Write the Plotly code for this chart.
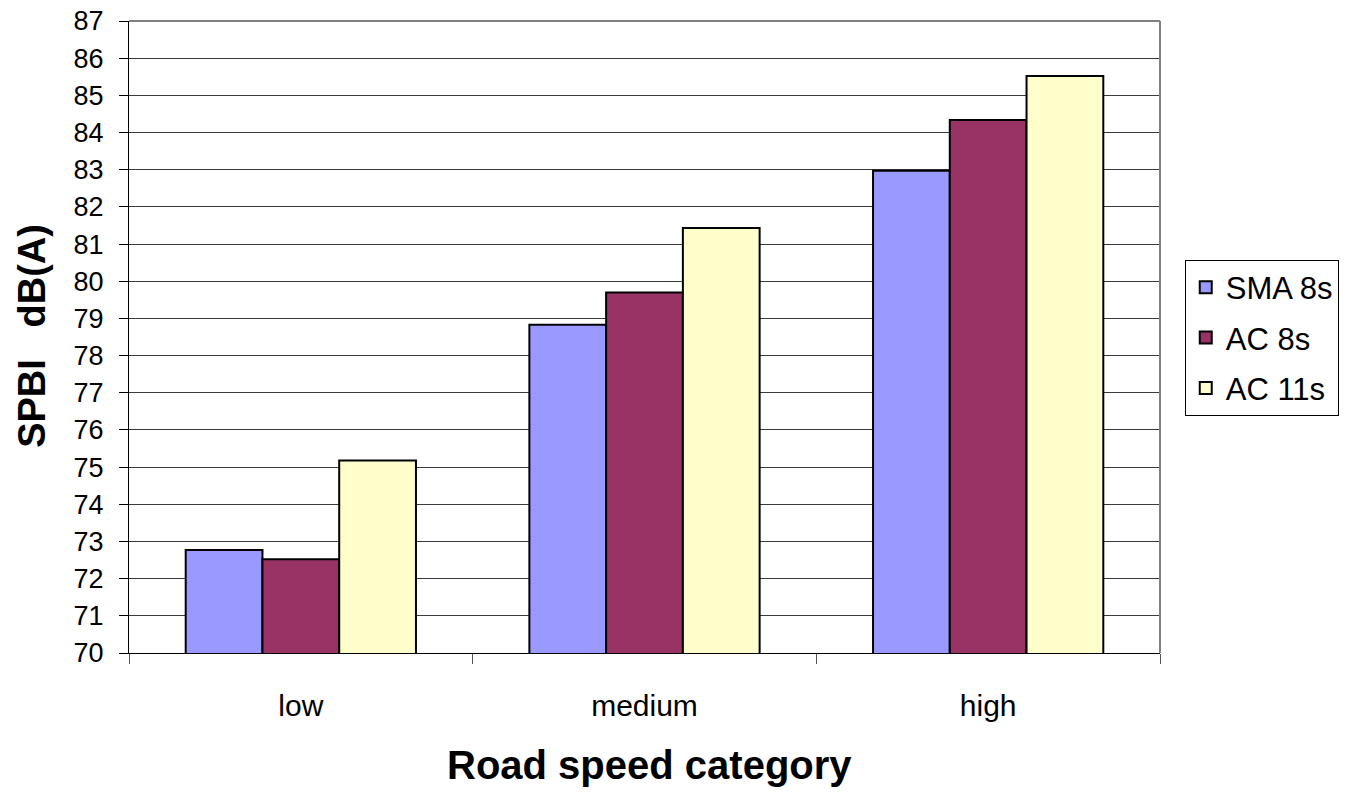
import plotly.graph_objects as go

# Road speed categories and measured SPBI levels, dB(A)
categories = ["low", "medium", "high"]
sma_8s = [72.77, 78.83, 82.97]
ac_8s = [72.52, 79.70, 84.34]
ac_11s = [75.18, 81.43, 85.52]

series_names = ["SMA 8s", "AC 8s", "AC 11s"]
series_values = [sma_8s, ac_8s, ac_11s]
series_colors = ["#9999FF", "#993366", "#FFFFCC"]

y_ticks = list(range(70, 88))

FONT = "Liberation Sans, Arial, sans-serif"

fig = go.Figure()
for name, vals, col in zip(series_names, series_values, series_colors):
    fig.add_trace(go.Bar(
        x=categories, y=vals, name=name, legendgroup=name,
        marker=dict(color=col, line=dict(color="black", width=2)),
    ))

fig.update_layout(
    width=1347, height=792,
    margin=dict(l=129, r=187, t=21, b=139, autoexpand=False),
    paper_bgcolor="white", plot_bgcolor="white",
    barmode="group", bargap=0.33, bargroupgap=0,
    font=dict(family=FONT, color="black"),
    showlegend=True,
    legend=dict(
        x=1.024, xanchor="left", y=0.499, yanchor="middle",
        bordercolor="black", borderwidth=1,
        font=dict(size=31, family=FONT, color="black"),
        traceorder="grouped", tracegroupgap=7,
        bgcolor="white",
    ),
    xaxis=dict(
        type="category", range=[-0.5, 2.5],
        showline=True, linecolor="black", linewidth=1,
        ticks="outside", tickson="boundaries", ticklen=10, tickcolor="#555555",
        tickfont=dict(size=30, family=FONT),
        ticklabelstandoff=26,
        showgrid=False, zeroline=False, mirror=False,
    ),
    yaxis=dict(
        range=[70, 87], tickvals=y_ticks,
        showline=True, linecolor="black", linewidth=1,
        ticks="outside", ticklen=9, tickcolor="black",
        tickfont=dict(size=27, family=FONT),
        ticklabelstandoff=10,
        showgrid=True, gridcolor="#3a3a3a", gridwidth=1,
        zeroline=False,
    ),
    shapes=[
        dict(type="line", xref="paper", yref="paper", x0=0, x1=1, y0=1, y1=1,
             line=dict(color="#808080", width=2)),
        dict(type="line", xref="paper", yref="paper", x0=1, x1=1, y0=0, y1=1,
             line=dict(color="#808080", width=2)),
    ],
    annotations=[
        dict(text="<b>SPBI\u00a0\u00a0\u00a0dB(A)</b>", xref="paper", yref="paper",
             x=-0.094, y=0.502, xanchor="center", yanchor="middle",
             textangle=-90, showarrow=False,
             font=dict(size=38, family=FONT, color="black")),
        dict(text="<b>Road speed category</b>", xref="paper", yref="paper",
             x=0.505, y=-0.177, xanchor="center", yanchor="middle",
             showarrow=False,
             font=dict(size=40, family=FONT, color="black")),
    ],
)

fig.write_html("out.html")
